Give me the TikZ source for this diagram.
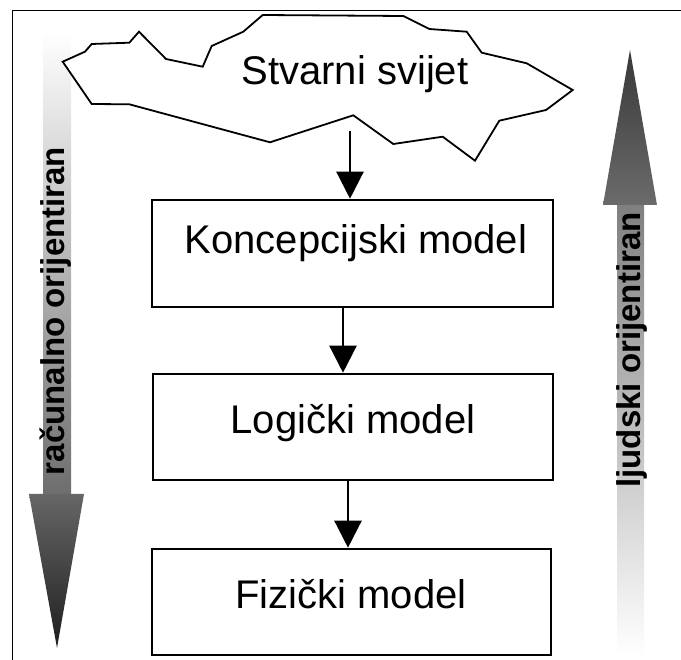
\documentclass[tikz,border=0pt]{standalone}
\usepackage{fontspec}
\setmainfont{Liberation Sans}
\usetikzlibrary{arrows.meta}
\begin{document}
\begin{tikzpicture}[x=1pt,y=-1pt,
  box/.style={draw, line width=2.6pt, inner sep=0pt, fill=white},
  conn/.style={line width=2.4pt, -{Triangle[width=27pt,length=27pt]}},
  lbl/.style={font=\fontsize{40}{48}\selectfont, inner sep=0pt, anchor=base},
  side/.style={font=\fontsize{33}{40}\selectfont\bfseries, inner sep=0pt, anchor=base, rotate=90},
  cloudline/.style={line width=1.8pt, fill=white, line join=miter}]
\useasboundingbox (0,0) rectangle (681,660);
% frame
\draw[line width=1.6pt] (681,10.5) -- (12.5,10.5) -- (12.5,660);
% left gradient arrow (downwards)
\shade[top color=white, bottom color=black!57] (43,32) rectangle (71,494);
\shade[top color=black!60, bottom color=black!88] (29,494) -- (84,494) -- (57,648) -- cycle;
\node[side] (ro) at (64,311) {računalno orijentiran};
% right gradient arrow (upwards)
\shade[top color=white!0!black!50, bottom color=white] (617,205) rectangle (644,655);
\shade[top color=black!78, bottom color=black!58] (630,50) -- (657,205) -- (603,205) -- cycle;
\node[side] (lo) at (640,350) {ljudski orijentiran};
% cloud
\draw[cloudline] (62.7,61.7) -- (85,51.7) -- (91.7,44) -- (129.3,42.7) -- (139,31.7)
  -- (166,59) -- (202.7,66.7) -- (211.7,46) -- (243.3,31.7) -- (262.7,15)
  -- (403.3,16) -- (429.3,29) -- (466.7,31.7) -- (481.7,52.7) -- (526.7,63.3)
  -- (572.7,90) -- (546,110) -- (499.3,120.7) -- (475,160.7) -- (442.7,136.7)
  -- (393.3,144) -- (353.3,115.3) -- (270,142.3) -- (129.3,104.3) -- (91.7,104) -- cycle;
\node[lbl] (sv) at (355,85) {Stvarni svijet};
\coordinate (cb) at (350,131.5);
% boxes
\node[box, minimum width=401pt, minimum height=107pt] (k) at (352.5,253.5) {};
\node[lbl] (kt) at (356,254) {Koncepcijski model};
\node[box, minimum width=400pt, minimum height=106pt] (l) at (353,427) {};
\node[lbl] (lt) at (353,434) {Logički model};
\node[box, minimum width=399pt, minimum height=106pt] (f) at (351.5,602) {};
\node[lbl] (ft) at (351,608.7) {Fizički model};
% connectors
\coordinate (a2) at (343,0);
\coordinate (a3) at (348,0);
\draw[conn] (cb) -- (cb |- k.north);
\draw[conn] (a2 |- k.south) -- (a2 |- l.north);
\draw[conn] (a3 |- l.south) -- (a3 |- f.north);
\end{tikzpicture}
\end{document}
